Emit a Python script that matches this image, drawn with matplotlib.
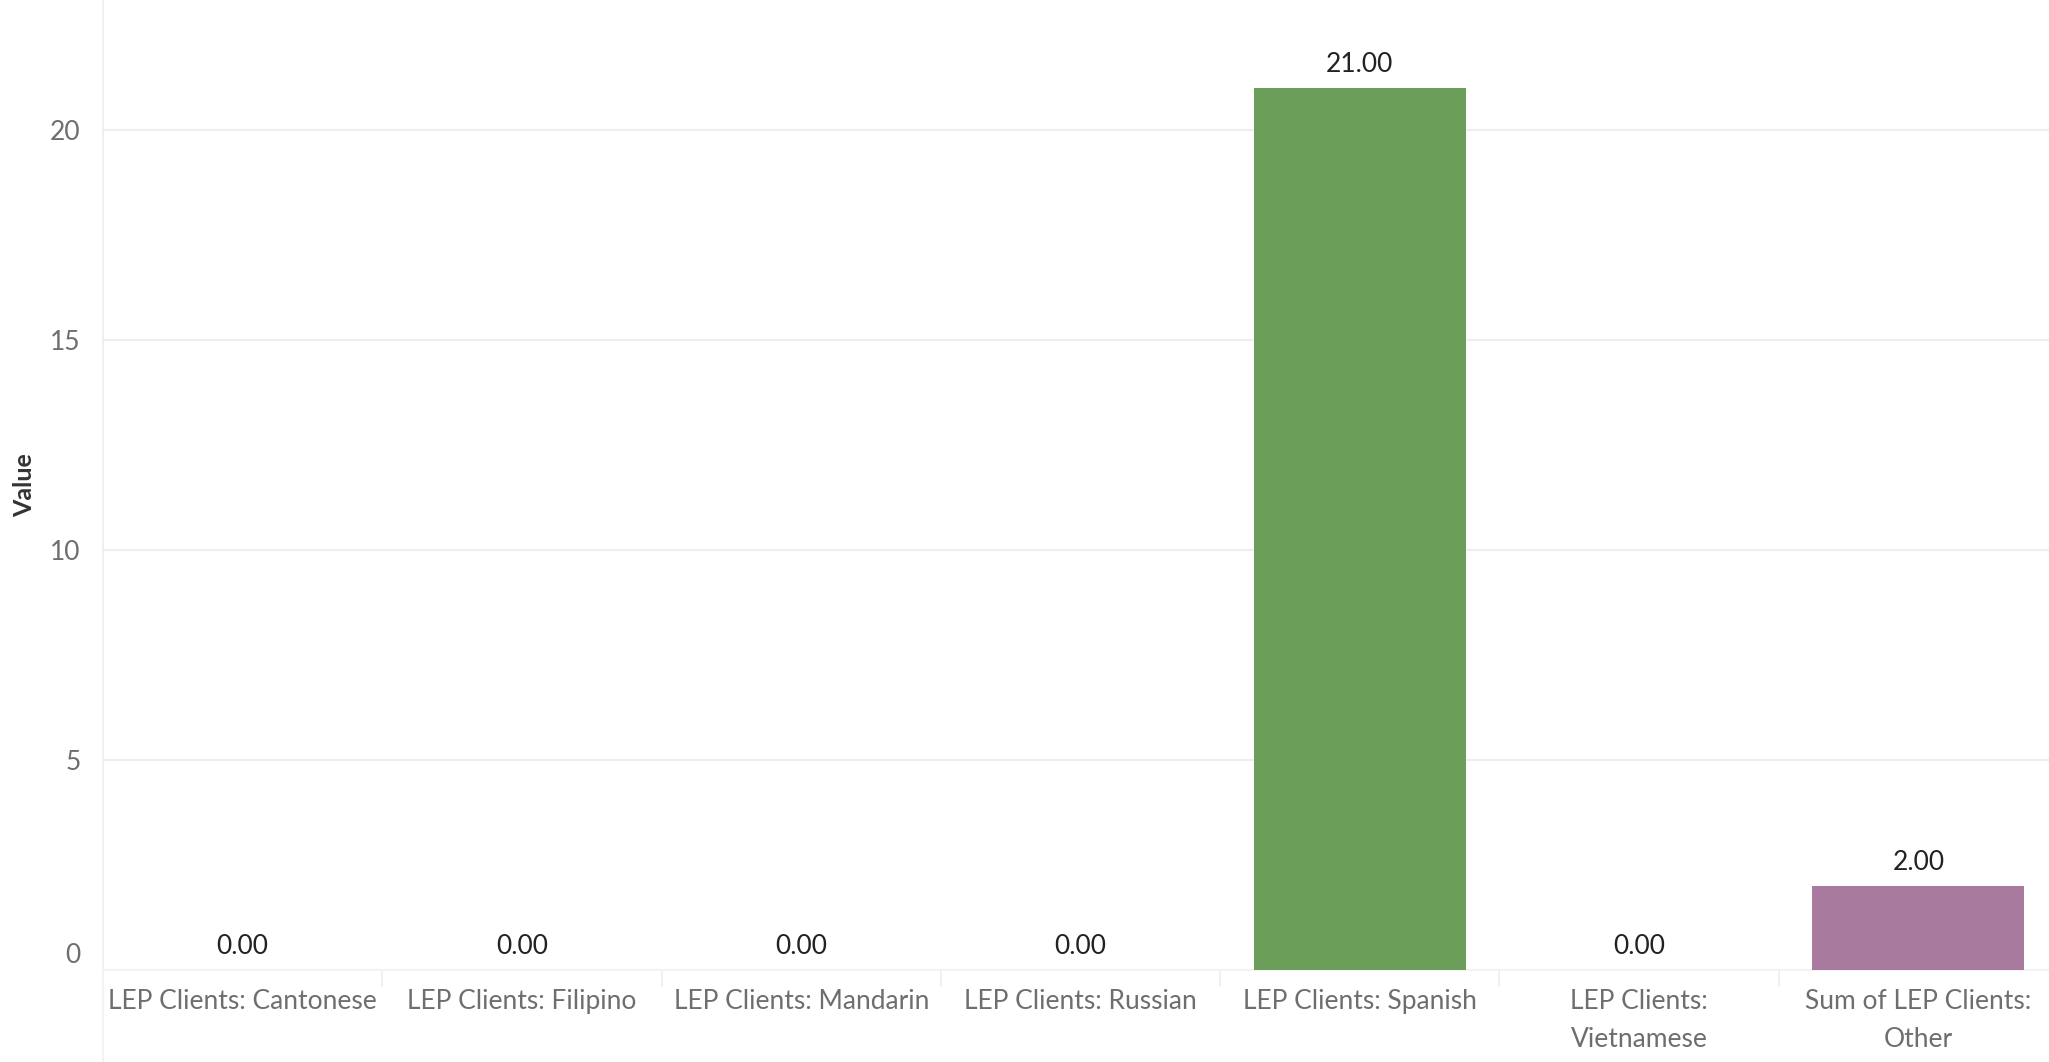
import numpy as np
import matplotlib
matplotlib.use("Agg")
import matplotlib.pyplot as plt
from matplotlib.lines import Line2D
from matplotlib.transforms import ScaledTranslation
from matplotlib.ticker import FixedLocator

plt.rcParams['font.family'] = ['Lato', 'DejaVu Sans']

# data
categories = ["LEP Clients: Cantonese", "LEP Clients: Filipino", "LEP Clients: Mandarin",
              "LEP Clients: Russian", "LEP Clients: Spanish", "LEP Clients:\nVietnamese",
              "Sum of LEP Clients:\nOther"]
values = [0.0, 0.0, 0.0, 0.0, 21.0, 0.0, 2.0]
colors = ["#4e79a7", "#f28e2b", "#e15759", "#76b7b2", "#6b9f59", "#edc948", "#a87b9e"]
yticks = [0, 5, 10, 15, 20]

fig = plt.figure(figsize=(20.49, 10.62), dpi=100)
# plot area runs a little past the right edge of the image, as in the reference
ax = fig.add_axes([103 / 2049, 1 - 970 / 1062, (2058 - 103) / 2049, 970 / 1062])

x = np.arange(len(categories))
ax.bar(x, values, width=0.76, color=colors, zorder=3)

ax.set_xlim(-0.5, len(categories) - 0.5)
ax.set_ylim(0, 23.1)

ax.set_yticks(yticks)
ax.set_yticklabels([str(t) for t in yticks], fontsize=19, color="#6e6e6e")
ax.tick_params(axis='y', length=0, pad=16)
ax.grid(axis='y', color="#eeeeee", linewidth=1.5, zorder=0)
ax.set_axisbelow(True)

ax.set_xticks(x)
ax.set_xticklabels(categories, fontsize=19, color="#6e6e6e", linespacing=1.65)
ax.tick_params(axis='x', which='major', length=0, pad=14)
ax.xaxis.set_minor_locator(FixedLocator(np.arange(0.5, len(categories) - 1, 1.0)))
ax.tick_params(axis='x', which='minor', length=12, width=1.2, color="#eeeeee", direction='out')

for side in ['top', 'right']:
    ax.spines[side].set_visible(False)
ax.spines['left'].set_color("#eeeeee")
ax.spines['left'].set_linewidth(1.2)
ax.spines['bottom'].set_color("#f2f2f2")
ax.spines['bottom'].set_linewidth(1.2)

# left rule continues down through the label band
fig.add_artist(Line2D([103 / 2049, 103 / 2049], [0, 1 - 970 / 1062],
                      color="#f2f2f2", linewidth=1.2))

ax.set_ylabel("Value", fontsize=18, fontweight='bold', color="#333333", labelpad=10)

# lift the "0" label a little, as in the reference
lbl0 = ax.get_yticklabels()[0]
lbl0.set_transform(lbl0.get_transform() + ScaledTranslation(0, 0.17, fig.dpi_scale_trans))

for xi, v in zip(x, values):
    ax.annotate(f"{v:.2f}", (xi, v), xytext=(0, 8), textcoords='offset points',
                ha='center', va='bottom', fontsize=19, color="#222222")

fig.savefig("out.png", dpi=100)
